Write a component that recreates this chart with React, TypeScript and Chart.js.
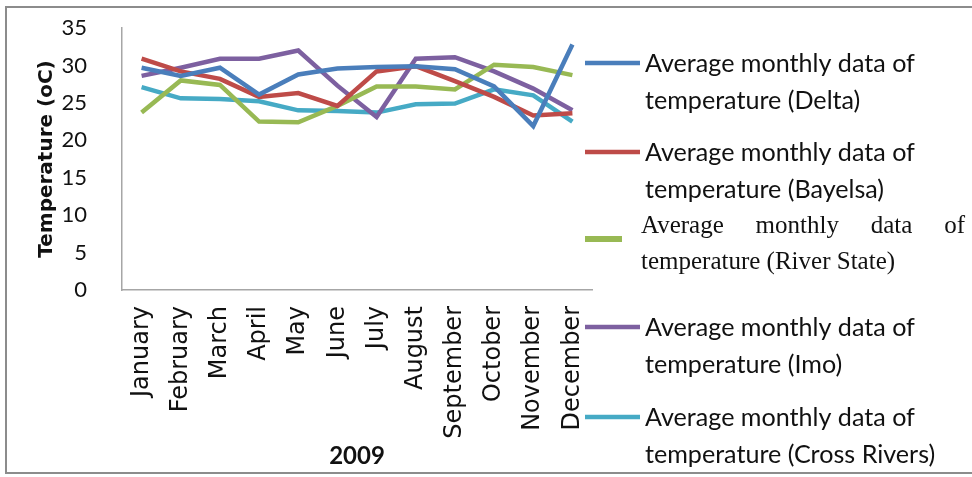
import React, { useEffect, useRef } from 'react';
import { Chart, registerables } from 'chart.js';

Chart.register(...registerables);

const months = [
  'January', 'February', 'March', 'April', 'May', 'June',
  'July', 'August', 'September', 'October', 'November', 'December',
];

const delta = [29.7, 28.6, 29.7, 26.1, 28.8, 29.6, 29.8, 29.9, 29.5, 27.2, 21.9, 32.8];
const bayelsa = [30.9, 29.2, 28.2, 25.8, 26.3, 24.6, 29.2, 29.9, 27.9, 25.8, 23.3, 23.6];
const riverState = [23.7, 28.0, 27.4, 22.5, 22.4, 24.6, 27.2, 27.2, 26.8, 30.1, 29.8, 28.7];
const imo = [28.6, 29.7, 30.9, 30.9, 32.0, 27.3, 23.1, 30.9, 31.1, 29.2, 26.9, 24.0];
const crossRivers = [27.1, 25.6, 25.5, 25.2, 24.0, 23.9, 23.7, 24.8, 24.9, 26.8, 26.0, 22.5];

const yTicks = [0, 5, 10, 15, 20, 25, 30, 35];

const seriesNames = ['Delta', 'Bayelsa', 'River State', 'Imo', 'Cross Rivers'];
const seriesColors = ['#4a7ebb', '#be4b48', '#98b954', '#7d60a0', '#46aac5'];

// legend layout (sample line y, per entry)
const legendRows = [63, 152, 239, 327, 417];

const sideLegend = {
  id: 'sideLegend',
  afterDraw(chart: any) {
    const ctx = chart.ctx as CanvasRenderingContext2D;
    ctx.save();
    ctx.textBaseline = 'alphabetic';
    ctx.textAlign = 'left';
    ctx.fillStyle = '#111';

    // size the sans font so the first line spans about 270px
    ctx.font = '25px Lato, "Open Sans", sans-serif';
    const w = ctx.measureText('Average monthly data of').width;
    const sansSize = 25 * 270 / w;

    chart.data.datasets.forEach((ds: any, i: number) => {
      const y = legendRows[i];
      const serif = ds.label.includes('River State');
      ctx.strokeStyle = ds.borderColor;
      ctx.lineWidth = serif ? 6 : 4.5;
      ctx.beginPath();
      ctx.moveTo(585, y);
      ctx.lineTo(serif ? 622 : 640, y);
      ctx.stroke();

      const parts = ds.label.split(' of ');
      const line1 = parts[0] + ' of';
      const line2 = parts[1];

      if (serif) {
        ctx.font = '25px "Liberation Serif", "DejaVu Serif", serif';
        const words = line1.split(' ');
        const total = words.reduce((s: number, t: string) => s + ctx.measureText(t).width, 0);
        const gap = (965 - 641 - total) / (words.length - 1);
        let x = 641;
        words.forEach((t: string) => {
          ctx.fillText(t, x, y - 6);
          x += ctx.measureText(t).width + gap;
        });
        ctx.fillText(line2, 641, y + 30);
      } else {
        ctx.font = `${sansSize}px Lato, "Open Sans", sans-serif`;
        ctx.fillText(line1, 645, y + 9);
        ctx.fillText(line2, 645, y + 45.5);
      }
    });
    ctx.restore();
  },
};

function TemperatureChart() {
  const canvasRef = useRef<HTMLCanvasElement>(null);
  const chartRef = useRef<Chart | null>(null);

  useEffect(() => {
    if (!canvasRef.current) return;
    if (chartRef.current) chartRef.current.destroy();

    const seriesValues = [delta, bayelsa, riverState, imo, crossRivers];

    chartRef.current = new Chart(canvasRef.current, {
      type: 'line',
      data: {
        labels: months,
        datasets: seriesNames.map((name, i) => ({
          label: `Average monthly data of temperature (${name})`,
          data: seriesValues[i],
          borderColor: seriesColors[i],
          backgroundColor: seriesColors[i],
          borderWidth: 4.5,
          pointRadius: 0,
          tension: 0,
          fill: false,
        })),
      },
      options: {
        responsive: true,
        maintainAspectRatio: false,
        animation: false,
        layout: { padding: { left: 0, top: 28, right: 380, bottom: 0 } },
        plugins: {
          legend: { display: false },
          tooltip: { enabled: false },
        },
        scales: {
          x: {
            offset: true,
            // invisible tick marks give the gap between axis and labels
            grid: {
              display: true,
              drawOnChartArea: false,
              drawTicks: true,
              tickLength: 14,
              tickColor: 'rgba(0,0,0,0)',
            },
            border: { display: true, color: '#a6a6a6', width: 1.5 },
            ticks: {
              minRotation: 90,
              maxRotation: 90,
              autoSkip: false,
              padding: 2,
              color: '#111',
              font: { family: '"DejaVu Sans", sans-serif', size: 24 },
            },
            title: {
              display: true,
              text: '2009',
              color: '#111',
              font: { family: 'Lato, sans-serif', size: 24, weight: 'bold' },
              padding: { top: 0, bottom: 6 },
            },
            afterFit(scale: any) {
              scale.height = 187;
            },
          },
          y: {
            min: 0,
            max: 35,
            afterBuildTicks(scale: any) {
              scale.ticks = yTicks.map((v) => ({ value: v }));
            },
            grid: {
              display: true,
              drawOnChartArea: false,
              drawTicks: true,
              tickLength: 33,
              tickColor: 'rgba(0,0,0,0)',
            },
            border: { display: true, color: '#a6a6a6', width: 1.5 },
            ticks: {
              padding: 2,
              color: '#111',
              font: { family: '"Liberation Sans Narrow", Lato, sans-serif', size: 22 },
            },
            title: {
              display: true,
              text: 'Temperature (oC)',
              color: '#111',
              font: { family: '"DejaVu Sans", sans-serif', size: 20, weight: 'bold' },
              padding: { top: 35, bottom: 0 },
            },
            afterFit(scale: any) {
              scale.width = 122;
            },
          },
        },
      },
      plugins: [sideLegend],
    });

    return () => {
      if (chartRef.current) {
        chartRef.current.destroy();
        chartRef.current = null;
      }
    };
  }, []);

  return (
    <div style={{ position: 'absolute', left: 0, top: 0, width: 972, height: 477, background: '#fff' }}>
      <div
        style={{
          position: 'absolute',
          left: 5,
          top: 6,
          width: 1000,
          height: 468,
          border: '2px solid #8c8c8c',
          boxSizing: 'border-box',
        }}
      />
      <div style={{ position: 'absolute', left: 0, top: 0, width: 972, height: 477 }}>
        <canvas ref={canvasRef} />
      </div>
    </div>
  );
}

export default function App() {
  return <TemperatureChart />;
}
